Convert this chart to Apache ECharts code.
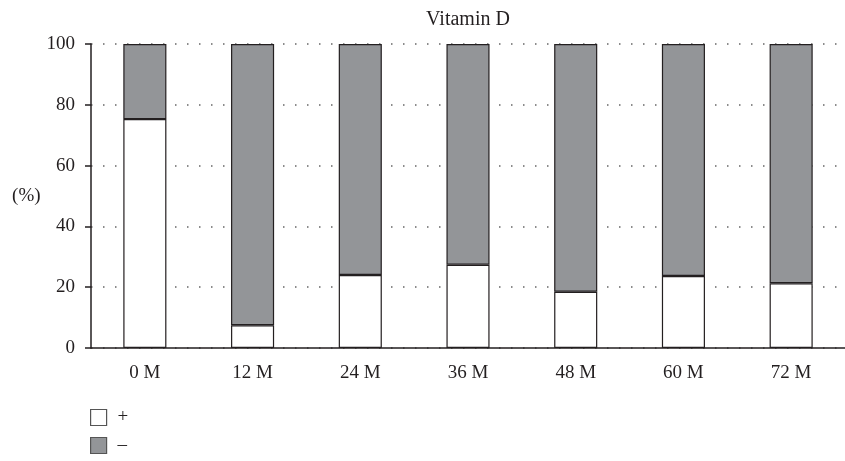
<!DOCTYPE html>
<html>
<head>
<meta charset="utf-8">
<script src="https://cdn.jsdelivr.net/npm/echarts@6/dist/echarts.min.js"></script>
<style>
  html, body { margin: 0; padding: 0; background: #fff; }
  #chart { width: 845px; height: 461px; }
</style>
</head>
<body>
<div id="chart"></div>
<script>
// 时间点
var months = ['0 M', '12 M', '24 M', '36 M', '48 M', '60 M', '72 M'];
// 阳性比例 (%)
var positive = [75.3, 7.5, 24, 27.4, 18.5, 23.7, 21.3];
// 阴性比例 = 100 - 阳性
var negative = positive.map(function (v) { return +(100 - v).toFixed(1); });
var yTicks = [0, 20, 40, 60, 80, 100];

var font = '"Liberation Serif", "DejaVu Serif", serif';
var ink = '#231f20';

var chart = echarts.init(document.getElementById('chart'));
var option = {
    animation: false,
    textStyle: { fontFamily: font },
    title: {
        text: 'Vitamin D',
        left: 468,
        textAlign: 'center',
        top: 10,
        padding: 0,
        textStyle: { fontFamily: font, fontSize: 20, fontWeight: 'normal', color: ink }
    },
    legend: {
        orient: 'vertical',
        left: 90,
        top: 408,
        padding: 0,
        itemWidth: 16,
        itemHeight: 16,
        itemGap: 9,
        icon: 'rect',
        itemStyle: { borderColor: '#555', borderWidth: 1.2 },
        textStyle: { fontFamily: font, fontSize: 19, color: ink, padding: [0, 0, 0, 6] },
        data: ['+', '–']
    },
    grid: { left: 91, right: 0, top: 44, bottom: 113 },
    xAxis: {
        type: 'category',
        data: months,
        axisLine: { lineStyle: { color: ink, width: 1.5 } },
        axisTick: { alignWithLabel: true, length: 5, lineStyle: { color: ink, width: 1.5 } },
        axisLabel: { fontFamily: font, fontSize: 19, color: ink, margin: 16 }
    },
    yAxis: {
        type: 'value',
        min: 0,
        max: 100,
        interval: 20,
        name: '(%)',
        nameLocation: 'middle',
        nameRotate: 0,
        nameGap: 50,
        nameTextStyle: { fontFamily: font, fontSize: 19, color: ink },
        axisLine: { show: true, lineStyle: { color: ink, width: 1.5 } },
        axisTick: { show: true, length: 6, lineStyle: { color: ink, width: 1.5 } },
        axisLabel: {
            fontFamily: font, fontSize: 19, color: ink, margin: 16,
            formatter: function (v) { return yTicks.indexOf(v) >= 0 ? v : ''; }
        },
        splitLine: { show: true, lineStyle: { color: '#666', type: [1.5, 10.5], width: 1.5 } }
    },
    series: [{
        name: '+',
        type: 'bar',
        stack: 'total',
        barWidth: '40%',
        data: positive,
        itemStyle: { color: '#ffffff', borderColor: ink, borderWidth: 1.2 }
    }, {
        name: '–',
        type: 'bar',
        stack: 'total',
        data: negative,
        itemStyle: { color: '#939598', borderColor: ink, borderWidth: 1.2 }
    }]
};
chart.setOption(option);
</script>
</body>
</html>
